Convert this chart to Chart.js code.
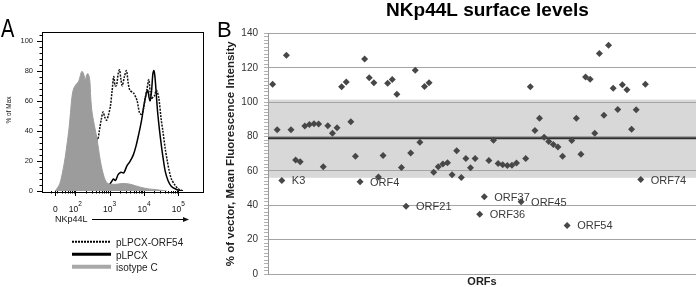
<!DOCTYPE html>
<html><head><meta charset="utf-8">
<script src="https://cdn.jsdelivr.net/npm/chart.js@4.4.1/dist/chart.umd.min.js"></script>
<style>
html,body{margin:0;padding:0;background:#fff;width:700px;height:287px;overflow:hidden}
#a{position:absolute;left:0;top:0}
#b{position:absolute;left:200px;top:0}
</style></head><body>
<canvas id="a" width="210" height="287"></canvas>
<canvas id="b" width="500" height="287"></canvas>
<script>
const FONT = '"Liberation Sans", Arial, sans-serif';

// ---------- Panel A: histogram (x in log10 display units, y in % of max) ----------
const isoX = [1.42,1.55,1.65,1.71,1.77,1.81,1.86,1.90,1.95,2.03,2.10,2.15,2.19,2.24,2.29,2.33,2.37,2.42,2.45,2.49,2.57,2.63,2.73,2.83,2.92,3.02,3.2,3.4,3.6,3.75,3.9,4.1,4.3,4.67];
const isoY = [0,5,15,23,33,40,52,62,68,71,73,77,79.5,78,74,77,78,74,62,52,42,35,20,10,5.5,4.5,4.5,5,4.5,3.5,2.5,1.5,1,0];

const orf54X = [1.42,1.6,1.76,1.85,1.95,2.05,2.15,2.25,2.36,2.41,2.46,2.52,2.58,2.65,2.70,2.76,2.81,2.86,2.91,2.96,3.02,3.07,3.12,3.16,3.20,3.25,3.29,3.33,3.37,3.43,3.49,3.54,3.59,3.70,3.80,3.87,3.93,3.98,4.04,4.09,4.14,4.18,4.21,4.25,4.30,4.36,4.43,4.50,4.55,4.62,4.68,4.73,4.80,4.9,5.0,5.15];
const orf54Y = [0,1.5,3,6,11,16,22,27,30,28,27,33,37,34,40,48,52.5,49,47,50,56,66,76,70,70,78,80.5,74,70,76,80,72,67,65,60,52,51,54,62,68,74,66,61,62,63,67,62,48,40,28,20,14,8,4,1.5,0];

const vecX = [2.1,2.6,2.85,2.95,3.05,3.11,3.17,3.25,3.33,3.41,3.51,3.59,3.69,3.77,3.85,3.93,4.0,4.07,4.11,4.15,4.18,4.22,4.26,4.29,4.32,4.36,4.40,4.45,4.52,4.57,4.62,4.70,4.8,4.95,5.1];
const vecY = [0,0.5,1.5,3,6,8,7,11,12.5,12,17,19.5,24,30,38,47,57,65,67,62,60,66,78,80,76,64,52,41,28,20,13,7,3,1,0];

const aTickPos = [1.42, 2, 3, 4, 5];
const aTickBase = ['0', '10', '10', '10', '10'];
const aTickExp = ['', '2', '3', '4', '5'];
const aLegend = ['pLPCX-ORF54', 'pLPCX', 'isotype C'];

// ---------- Panel B: NKp44L surface levels ----------
const orfValues = [110.5,84,54.5,127.3,84,66.3,65.3,86.2,87,87.5,87.3,62.5,86.3,82,85.2,109,111.8,88.6,68.5,53.7,
  125.2,114.3,111.3,56.5,69,111,113.2,104.7,62,39.5,70.5,118.6,76.7,109.2,111.3,59.3,62.4,64,64.7,57.8,
  71.8,56.2,67.2,61.8,67.2,34.8,45,66,77.9,64.3,63.6,63.1,63.3,64.6,42,67.2,109,83.5,90.6,79.6,
  77.2,75.4,74,68.5,28.3,77.7,90.7,69.7,114.7,113.4,81.9,128.4,92.4,133.1,108.2,95.8,110.2,107.2,84.2,95.6,
  55,110.5];
const orfLabels = orfValues.map(() => '');
orfLabels[2] = 'K3'; orfLabels[19] = 'ORF4'; orfLabels[29] = 'ORF21'; orfLabels[45] = 'ORF36';
orfLabels[46] = 'ORF37'; orfLabels[54] = 'ORF45'; orfLabels[64] = 'ORF54'; orfLabels[80] = 'ORF74';
const bandLow = 56, bandHigh = 101.5, vectorMean = 79;

const zip = (xs, ys) => xs.map((x, i) => ({x, y: ys[i]}));

// ---------- Panel A plugin ----------
const panelA = {
  id: 'panelA',
  afterDraw(chart) {
    const {ctx, chartArea: ca, scales: {x, y}} = chart;
    ctx.save();
    ctx.strokeStyle = '#000'; ctx.lineWidth = 1;
    ctx.strokeRect(Math.round(ca.left) + 0.5, Math.round(ca.top) + 0.5, Math.round(ca.right - ca.left), Math.round(ca.bottom - ca.top));
    for (let v = 0; v <= 104; v += 4) {
      const py = Math.round(y.getPixelForValue(v)) + 0.5;
      const len = v % 20 === 0 ? 5 : 2.5;
      ctx.beginPath(); ctx.moveTo(ca.left - len, py); ctx.lineTo(ca.left, py); ctx.stroke();
    }
    const xt = (u, len) => {
      const px = Math.round(x.getPixelForValue(u)) + 0.5;
      ctx.beginPath(); ctx.moveTo(px, ca.bottom); ctx.lineTo(px, ca.bottom + len); ctx.stroke();
    };
    for (let k = 1; k <= 4; k++) for (let m = 2; m <= 9; m++) {
      const u = Math.log10(m * Math.pow(10, k));
      if (u > x.min && u < x.max) xt(u, 2.5);
    }
    aTickPos.forEach(u => xt(u, 5));
    ctx.fillStyle = '#111';
    aTickPos.forEach((u, i) => {
      const px = x.getPixelForValue(u);
      ctx.font = '8.5px ' + FONT;
      const wb = ctx.measureText(aTickBase[i]).width;
      ctx.font = '6.5px ' + FONT;
      const we = ctx.measureText(aTickExp[i]).width;
      const x0 = px - (wb + we) / 2;
      ctx.font = '8.5px ' + FONT; ctx.textBaseline = 'alphabetic'; ctx.textAlign = 'left';
      ctx.fillText(aTickBase[i], x0, 211.5);
      ctx.font = '6.5px ' + FONT;
      ctx.fillText(aTickExp[i], x0 + wb, 205.5);
    });
    ctx.font = '9px ' + FONT; ctx.textBaseline = 'middle';
    ctx.fillText('NKp44L', 55, 220);
    ctx.beginPath(); ctx.moveTo(92, 219.5); ctx.lineTo(184, 219.5); ctx.stroke();
    ctx.beginPath(); ctx.moveTo(183, 217); ctx.lineTo(189, 219.5); ctx.lineTo(183, 222); ctx.closePath(); ctx.fill();
    ctx.save(); ctx.translate(9.5, 110); ctx.rotate(-Math.PI / 2);
    ctx.font = '6.5px ' + FONT; ctx.textAlign = 'center'; ctx.fillText('% of Max', 0, 0); ctx.restore();
    const ly = [241.7, 254.3, 266.7];
    ctx.setLineDash([2, 1]); ctx.lineWidth = 2; ctx.strokeStyle = '#000';
    ctx.beginPath(); ctx.moveTo(72, ly[0]); ctx.lineTo(110, ly[0]); ctx.stroke();
    ctx.setLineDash([]); ctx.lineWidth = 3;
    ctx.beginPath(); ctx.moveTo(72, ly[1]); ctx.lineTo(111, ly[1]); ctx.stroke();
    ctx.strokeStyle = '#a8a8a8'; ctx.lineWidth = 4;
    ctx.beginPath(); ctx.moveTo(72, ly[2]); ctx.lineTo(111, ly[2]); ctx.stroke();
    ctx.font = '10px ' + FONT; ctx.fillStyle = '#222'; ctx.textBaseline = 'middle'; ctx.textAlign = 'left';
    aLegend.forEach((t, i) => ctx.fillText(t, 116, ly[i] + 1.5));
    ctx.save(); ctx.translate(1, 36.7); ctx.scale(0.8, 1);
    ctx.font = '25px ' + FONT; ctx.textBaseline = 'alphabetic'; ctx.fillStyle = '#000';
    ctx.fillText('A', 0, 0); ctx.restore();
    ctx.restore();
  }
};

new Chart(document.getElementById('a'), {
  type: 'line',
  data: { datasets: [
    {data: zip(isoX, isoY), borderColor: '#9c9c9c', backgroundColor: '#9c9c9c', fill: 'origin', borderWidth: 1, pointRadius: 0, tension: 0.3},
    {data: zip(orf54X, orf54Y), borderColor: '#111', borderDash: [2, 1.2], borderWidth: 1.5, pointRadius: 0, tension: 0.3, fill: false},
    {data: zip(vecX, vecY), borderColor: '#000', borderWidth: 1.5, pointRadius: 0, tension: 0.3, fill: false}
  ]},
  options: {
    responsive: false, animation: false, devicePixelRatio: 1,
    layout: {padding: {top: 31.5, right: 7, left: 0, bottom: 0}},
    plugins: {legend: {display: false}, tooltip: {enabled: false}},
    scales: {
      x: {type: 'linear', min: 1.03, max: 5.72, grid: {display: false, drawTicks: false}, border: {display: false},
          ticks: {display: false}, afterFit(s) { s.height = 96; }},
      y: {min: 0, max: 106, grid: {display: false, drawTicks: false}, border: {display: false},
          ticks: {stepSize: 20, includeBounds: false, padding: 9, color: '#222', font: {family: FONT, size: 7.5},
                  callback: v => (v % 20 === 0 ? v : '')},
          afterFit(s) { s.width = 42; }}
    }
  },
  plugins: [panelA]
});

// ---------- Panel B plugin ----------
const panelB = {
  id: 'panelB',
  beforeDraw(chart) {
    const {ctx, chartArea: ca, scales: {y}} = chart;
    const top = y.getPixelForValue(bandHigh), bot = y.getPixelForValue(bandLow);
    ctx.save(); ctx.fillStyle = '#d8d8d8';
    ctx.fillRect(ca.left, top, ca.right - ca.left, bot - top);
    ctx.restore();
  },
  beforeDatasetsDraw(chart) {
    const {ctx, chartArea: ca, scales: {x, y}} = chart;
    ctx.save();
    const my = y.getPixelForValue(vectorMean);
    ctx.strokeStyle = '#2e2e2e'; ctx.lineWidth = 2;
    ctx.beginPath(); ctx.moveTo(ca.left, my); ctx.lineTo(ca.right, my); ctx.stroke();
    ctx.font = '11px ' + FONT; ctx.fillStyle = '#3a3a3a'; ctx.textBaseline = 'middle'; ctx.textAlign = 'left';
    orfValues.forEach((v, i) => {
      if (!orfLabels[i]) return;
      ctx.fillText(orfLabels[i], x.getPixelForValue(i + 1) + 10, y.getPixelForValue(v) + 1);
    });
    ctx.restore();
  },
  afterDraw(chart) {
    const {ctx} = chart;
    ctx.save();
    ctx.fillStyle = '#000'; ctx.textBaseline = 'alphabetic';
    ctx.font = '22px ' + FONT; ctx.textAlign = 'left';
    ctx.fillText('B', 17, 36.5);
    ctx.font = 'bold 19px ' + FONT; ctx.textAlign = 'center';
    ctx.fillText('NKp44L surface levels', 287.5, 16);
    ctx.restore();
  }
};

new Chart(document.getElementById('b'), {
  type: 'scatter',
  data: { datasets: [{
    data: orfValues.map((v, i) => ({x: i + 1, y: v})),
    pointStyle: 'rectRot', pointRadius: 3.5, pointBorderWidth: 0,
    backgroundColor: '#474747', borderColor: '#474747'
  }]},
  options: {
    responsive: false, animation: false, devicePixelRatio: 1,
    layout: {padding: {top: 33.5, right: 3, left: 0, bottom: 0}},
    plugins: {legend: {display: false}, tooltip: {enabled: false}},
    scales: {
      x: {type: 'linear', min: 0, max: 93, ticks: {display: false}, grid: {display: false}, border: {display: false},
          title: {display: true, text: 'ORFs', color: '#222', font: {family: FONT, size: 11, weight: 'bold', lineHeight: 1}, padding: 0},
          afterFit(s) { s.height = 13; }},
      y: {min: 0, max: 140,
          ticks: {stepSize: 2, autoSkip: false, padding: 6, color: '#333', font: {family: FONT, size: 10},
                  callback: v => (v % 20 === 0 ? String(v) : '')},
          grid: {color: c => (c.tick && c.tick.value % 20 === 0 ? '#a4a4a4' : 'rgba(0,0,0,0)'), tickColor: '#b0b0b0', tickLength: 4},
          border: {color: '#9a9a9a', width: 1},
          title: {display: true, text: '% of vector, Mean Fluorescence Intensity', color: '#222',
                  font: {family: FONT, size: 11.5, weight: 'bold', lineHeight: 1}, padding: {top: 25, bottom: 0}},
          afterFit(s) { s.width = 68; }}
    }
  },
  plugins: [panelB]
});
</script>
</body></html>
